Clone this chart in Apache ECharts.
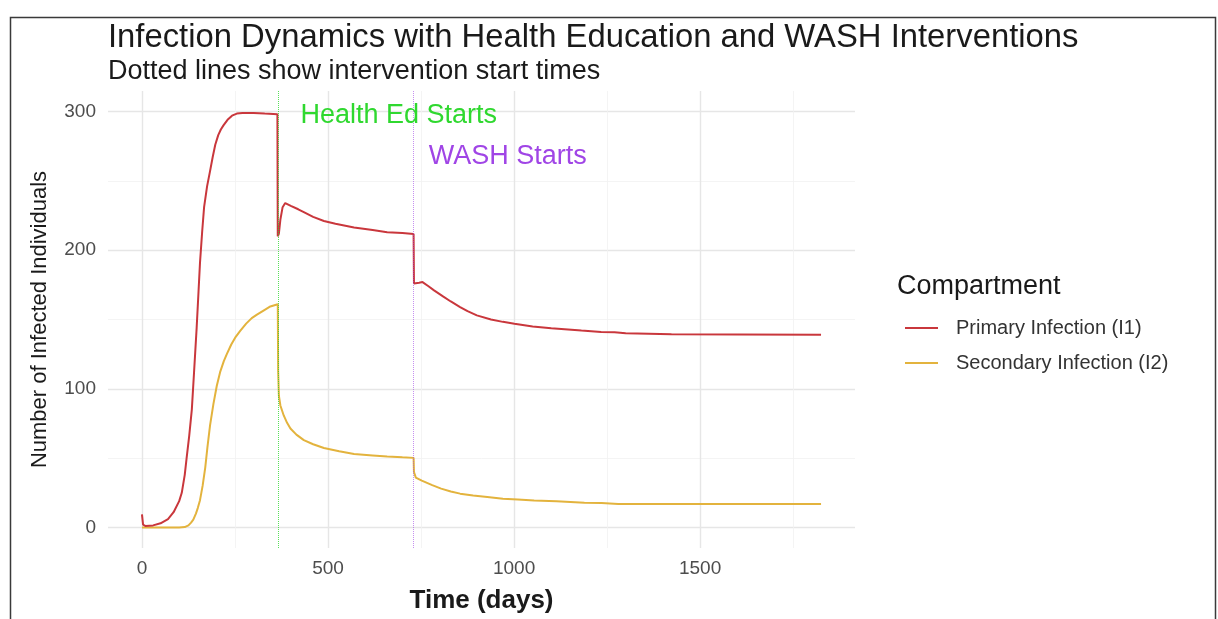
<!DOCTYPE html>
<html><head><meta charset="utf-8">
<script src="https://cdn.jsdelivr.net/npm/echarts@6/dist/echarts.min.js"></script>
<style>html,body{margin:0;padding:0;background:#fff}#c{width:1218px;height:619px}</style>
</head><body><div id="c"></div><script>
// ---- data ----
const primaryTime = [0,3,10,30,50,70,85,100,107,115,120,127,134,140,147,152,156,162,167,175,183,190,197,205,212,219,230,242,255,270,282,300,330,364,365,368,372,378,385,400,420,435,460,489,520,570,620,659,700,730,731,736,745,754,770,785,810,830,855,875,900,938,970,1001,1050,1100,1181,1234,1270,1300,1423,1600,1825];
const primaryVal  = [9.5,2,1,1.5,3,6,11,19,25,38,50,66,85,112,144,170,191,214,231,246,257,267,276,283,287,290,294,297,298.5,299,299,299,298.5,298,210,212,222,231,234,232,229.5,227.5,224,221,219,216.4,214.5,213,212.3,211.7,176,174.6,176.5,177,174,171,166.5,163,159,156,153,150,148.3,147,145,143.7,142,141,140.8,140,139.4,139.2,139];
const secondaryTime = [0,50,100,115,125,132,138,145,150,156,163,170,176,183,192,201,210,220,228,240,252,264,280,295,309,330,345,365,366,368,372,381,390,399,415,435,460,489,530,570,620,659,700,730,731,736,752,780,804,830,855,890,928,970,1010,1054,1114,1189,1235,1280,1400,1600,1825];
const secondaryVal  = [0,0,0,0.3,1.5,3.5,5.6,10,14,19.7,30,43,58,73.7,89,102,112,120,125,132,137.5,141.8,147,151,153.5,157,159.4,161,113,95,88,80.8,75.5,71.4,67,63,60,57.3,55,53,52,51.2,50.6,50.2,40,36,33.8,30.5,28,26,24.4,23,22,20.8,20.2,19.4,19,17.8,17.6,17,16.9,16.9,16.9];
const seriesNames = ['Primary Infection (I1)', 'Secondary Infection (I2)'];
const interventionTimes = [365, 730];
const interventionLabels = ['Health Ed Starts', 'WASH Starts'];
const labelAnchors = [[426, 297], [771, 267.5]];
const xTicks = [0, 500, 1000, 1500];
const xMinor = [250, 750, 1250, 1750];
const yTicks = [0, 100, 200, 300];
const yMinor = [50, 150, 250];

const FF = '"Liberation Sans", Arial, sans-serif';
const RED = '#c9373c', YEL = '#e3b33d', GRN = '#2fd82f', PUR = '#a045e6';
const pairs = (t, v) => t.map((x, i) => [x, v[i]]);

const chart = echarts.init(document.getElementById('c'), null, {renderer: 'canvas'});
const xr = {min: -91.25, max: 1916.25};
const yr = {min: -14.8, max: 314.8};
chart.setOption({
  animation: false,
  backgroundColor: '#ffffff',
  title: [
    {text: 'Infection Dynamics with Health Education and WASH Interventions', left: 108, top: 21, padding: 0,
     textStyle: {fontFamily: FF, fontSize: 32.8, fontWeight: 'normal', color: '#1a1a1a'}},
    {text: 'Dotted lines show intervention start times', left: 108, top: 58, padding: 0,
     textStyle: {fontFamily: FF, fontSize: 27, fontWeight: 'normal', color: '#1a1a1a'}}
  ],
  graphic: [
    {type: 'rect', left: 8, top: 15, shape: {width: 1205, height: 700}, style: {fill: 'none', stroke: '#3a3a3a', lineWidth: 1.5}, silent: true},
    {type: 'text', left: 897, top: 273, style: {text: 'Compartment', font: '27px ' + FF, fill: '#1a1a1a'}}
  ],
  grid: {left: 108, right: 363, top: 91, bottom: 60, containLabel: false},
  legend: {
    orient: 'vertical', left: 900, top: 311, itemWidth: 33, itemHeight: 2, itemGap: 11, icon: 'rect',
    data: seriesNames,
    textStyle: {fontFamily: FF, fontSize: 20, color: '#333', lineHeight: 24, padding: [0, 0, 0, 13]}
  },
  xAxis: [
    {type: 'value', min: xr.min, max: xr.max,
     name: 'Time (days)', nameLocation: 'middle', nameGap: 40,
     nameTextStyle: {fontFamily: FF, fontSize: 26, fontWeight: 'bold', color: '#1a1a1a'},
     axisLine: {show: false}, axisTick: {show: false, customValues: xTicks},
     axisLabel: {customValues: xTicks, formatter: v => String(v), fontFamily: FF, fontSize: 19, color: '#4d4d4d', margin: 11},
     splitLine: {show: true, lineStyle: {color: '#e6e6e6', width: 1.4}}},
    {type: 'value', min: xr.min, max: xr.max, position: 'bottom',
     axisLine: {show: false}, axisTick: {show: false, customValues: xMinor},
     axisLabel: {show: false, customValues: xMinor},
     splitLine: {show: true, lineStyle: {color: '#f1f1f1', width: 0.8}}}
  ],
  yAxis: [
    {type: 'value', min: yr.min, max: yr.max,
     name: 'Number of Infected Individuals', nameLocation: 'middle', nameGap: 57, nameRotate: 90,
     nameTextStyle: {fontFamily: FF, fontSize: 22, color: '#1a1a1a'},
     axisLine: {show: false}, axisTick: {show: false, customValues: yTicks},
     axisLabel: {customValues: yTicks, fontFamily: FF, fontSize: 19, color: '#4d4d4d', margin: 12},
     splitLine: {show: true, lineStyle: {color: '#e6e6e6', width: 1.4}}},
    {type: 'value', min: yr.min, max: yr.max, position: 'left',
     axisLine: {show: false}, axisTick: {show: false, customValues: yMinor},
     axisLabel: {show: false, customValues: yMinor},
     splitLine: {show: true, lineStyle: {color: '#f1f1f1', width: 0.8}}}
  ],
  series: [
    {name: seriesNames[0], type: 'line', data: pairs(primaryTime, primaryVal), showSymbol: false, symbol: 'none',
     smooth: false, lineStyle: {color: RED, width: 2}, itemStyle: {color: RED}, z: 3,
     markLine: {symbol: 'none', silent: true, label: {show: false},
       data: [
         {xAxis: interventionTimes[0], lineStyle: {color: GRN, type: 'dotted', width: 1, opacity: 0.8}},
         {xAxis: interventionTimes[1], lineStyle: {color: PUR, type: 'dotted', width: 1, opacity: 0.6}}
       ]},
     markPoint: {symbol: 'circle', symbolSize: 0, silent: true,
       data: [
         {coord: labelAnchors[0], label: {show: true, formatter: interventionLabels[0], position: 'right', distance: 0, color: GRN, fontSize: 27, fontFamily: FF}},
         {coord: labelAnchors[1], label: {show: true, formatter: interventionLabels[1], position: 'right', distance: 0, color: PUR, fontSize: 27, fontFamily: FF}}
       ]}},
    {name: seriesNames[1], type: 'line', data: pairs(secondaryTime, secondaryVal), showSymbol: false, symbol: 'none',
     smooth: false, lineStyle: {color: YEL, width: 2}, itemStyle: {color: YEL}, z: 2}
  ]
});
</script></body></html>
